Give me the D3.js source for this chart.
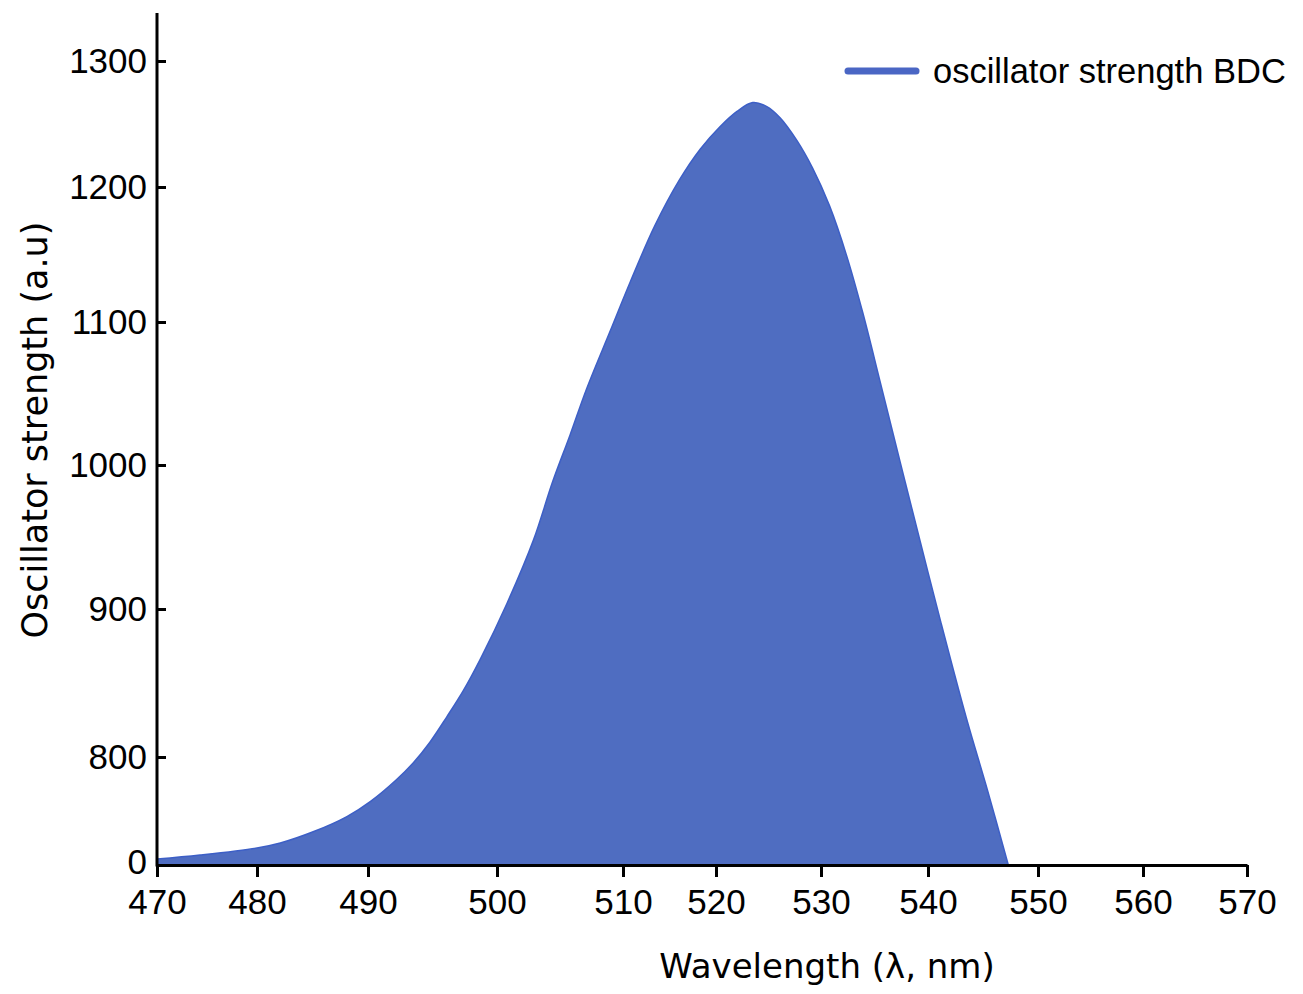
<!DOCTYPE html>
<html>
<head>
<meta charset="utf-8">
<script src="https://cdn.jsdelivr.net/npm/d3@7"></script>
<style>
  body { margin: 0; background: white; }
  .tick text { font-family: "Liberation Sans", Arial, sans-serif; font-size: 35px; fill: #000; }
</style>
</head>
<body>
<div id="chart"></div>
<script>
// values
const wavelength = [470, 474.3, 480, 482.1, 485.0, 488.1, 490.2, 492.2, 493.5, 494.8, 496.1, 497.4,
  498.7, 500.8, 502.9, 504.4, 505.8, 507.1, 509.0, 510.8, 513.4, 516.1, 518.3, 520.4, 522.0,
  523.5, 524.8, 526.1, 527.7, 529.2, 530.8, 532.4, 533.9, 535.5, 537.4, 539.3, 541.1,
  543.5, 545.4, 547.3];
const strength = [44, 74, 126, 163, 244, 359, 472, 632, 756, 810, 827, 845,
  866, 904, 948, 988, 1021, 1053, 1094, 1130, 1171, 1206, 1230, 1248, 1260,
  1267, 1264, 1255, 1237, 1215, 1186, 1149, 1107, 1059, 1002, 946, 893,
  826, 556, 0];

const xTicks = [470, 480, 490, 500, 510, 520, 530, 540, 550, 560, 570];
const yTicks = [0, 800, 900, 1000, 1100, 1200, 1300];
const seriesName = "oscillator strength BDC";

// the original axes are not evenly spaced, so both scales are piecewise
const X_STOPS = [157, 257, 368, 497, 623, 716, 821, 928, 1038, 1143, 1247];
const Y_STOPS = [865, 757, 609, 465, 322, 187, 61];
const Y_AXIS_TOP = 13;

const WIDTH = 1303, HEIGHT = 994;
const BLUE = "#4f6dc1";

const svg = d3
  .select("#chart")
  .append("svg")
  .attr("width", WIDTH)
  .attr("height", HEIGHT)
  .style("background", "white");

const x = d3.scaleLinear().domain(xTicks).range(X_STOPS);
const y = d3.scaleLinear().domain(yTicks).range(Y_STOPS);

const data = wavelength.map((w, i) => ({ w: w, v: strength[i] }));

const area = d3
  .area()
  .x((d) => x(d.w))
  .y0(y(0))
  .y1((d) => y(d.v))
  .curve(d3.curveCatmullRom.alpha(0.5));

const line = d3
  .line()
  .x((d) => x(d.w))
  .y((d) => y(d.v))
  .curve(d3.curveCatmullRom.alpha(0.5));

svg.append("path")
  .datum(data)
  .attr("d", area)
  .attr("fill", BLUE);

svg.append("path")
  .datum(data)
  .attr("d", line)
  .attr("fill", "none")
  .attr("stroke", "#3d5fc6")
  .attr("stroke-width", 1.5);

// x axis
const xAxis = svg
  .append("g")
  .attr("transform", `translate(0, ${y(0)})`)
  .call(d3.axisBottom(x).tickValues(xTicks).tickFormat(d3.format("d")).tickSize(12).tickSizeOuter(0).tickPadding(12));

// y axis (ticks point into the plot)
const yAxis = svg
  .append("g")
  .attr("transform", `translate(${x(470)}, 0)`)
  .call(d3.axisLeft(y).tickValues(yTicks).tickFormat(d3.format("d")).tickSize(-9).tickSizeOuter(0).tickPadding(10));

yAxis.select(".domain").remove();
yAxis.append("line")
  .attr("x1", 0).attr("x2", 0)
  .attr("y1", y(0) + 1.5).attr("y2", Y_AXIS_TOP)
  .attr("stroke", "#000")
  .attr("stroke-width", 3);

[xAxis, yAxis].forEach((g) => {
  g.selectAll(".domain").attr("stroke-width", 3);
  g.selectAll(".tick line").attr("stroke-width", 3);
  g.attr("font-family", null).attr("font-size", null);
});

// the "0" label sits a little higher so it clears the 470 label
yAxis.selectAll(".tick text").filter((d) => d === 0).attr("dy", "0.25em");

// axis titles
svg.append("text")
  .attr("x", 827)
  .attr("y", 978)
  .attr("text-anchor", "middle")
  .style("font-family", "DejaVu Sans, sans-serif")
  .style("font-size", "34px")
  .text("Wavelength (\u03bb, nm)");

svg.append("text")
  .attr("transform", "translate(47, 430) rotate(-90)")
  .attr("text-anchor", "middle")
  .style("font-family", "DejaVu Sans, sans-serif")
  .style("font-size", "35px")
  .text("Oscillator strength (a.u)");

// legend
const legend = svg.append("g").attr("transform", "translate(848, 71)");
legend.append("line")
  .attr("x1", 0).attr("x2", 68)
  .attr("y1", 0).attr("y2", 0)
  .attr("stroke", "#4a66c4")
  .attr("stroke-width", 7)
  .attr("stroke-linecap", "round");
legend.append("text")
  .attr("x", 85)
  .attr("y", 12)
  .style("font-family", "Liberation Sans, Arial, sans-serif")
  .style("font-size", "34.5px")
  .text(seriesName);
</script>
</body>
</html>
